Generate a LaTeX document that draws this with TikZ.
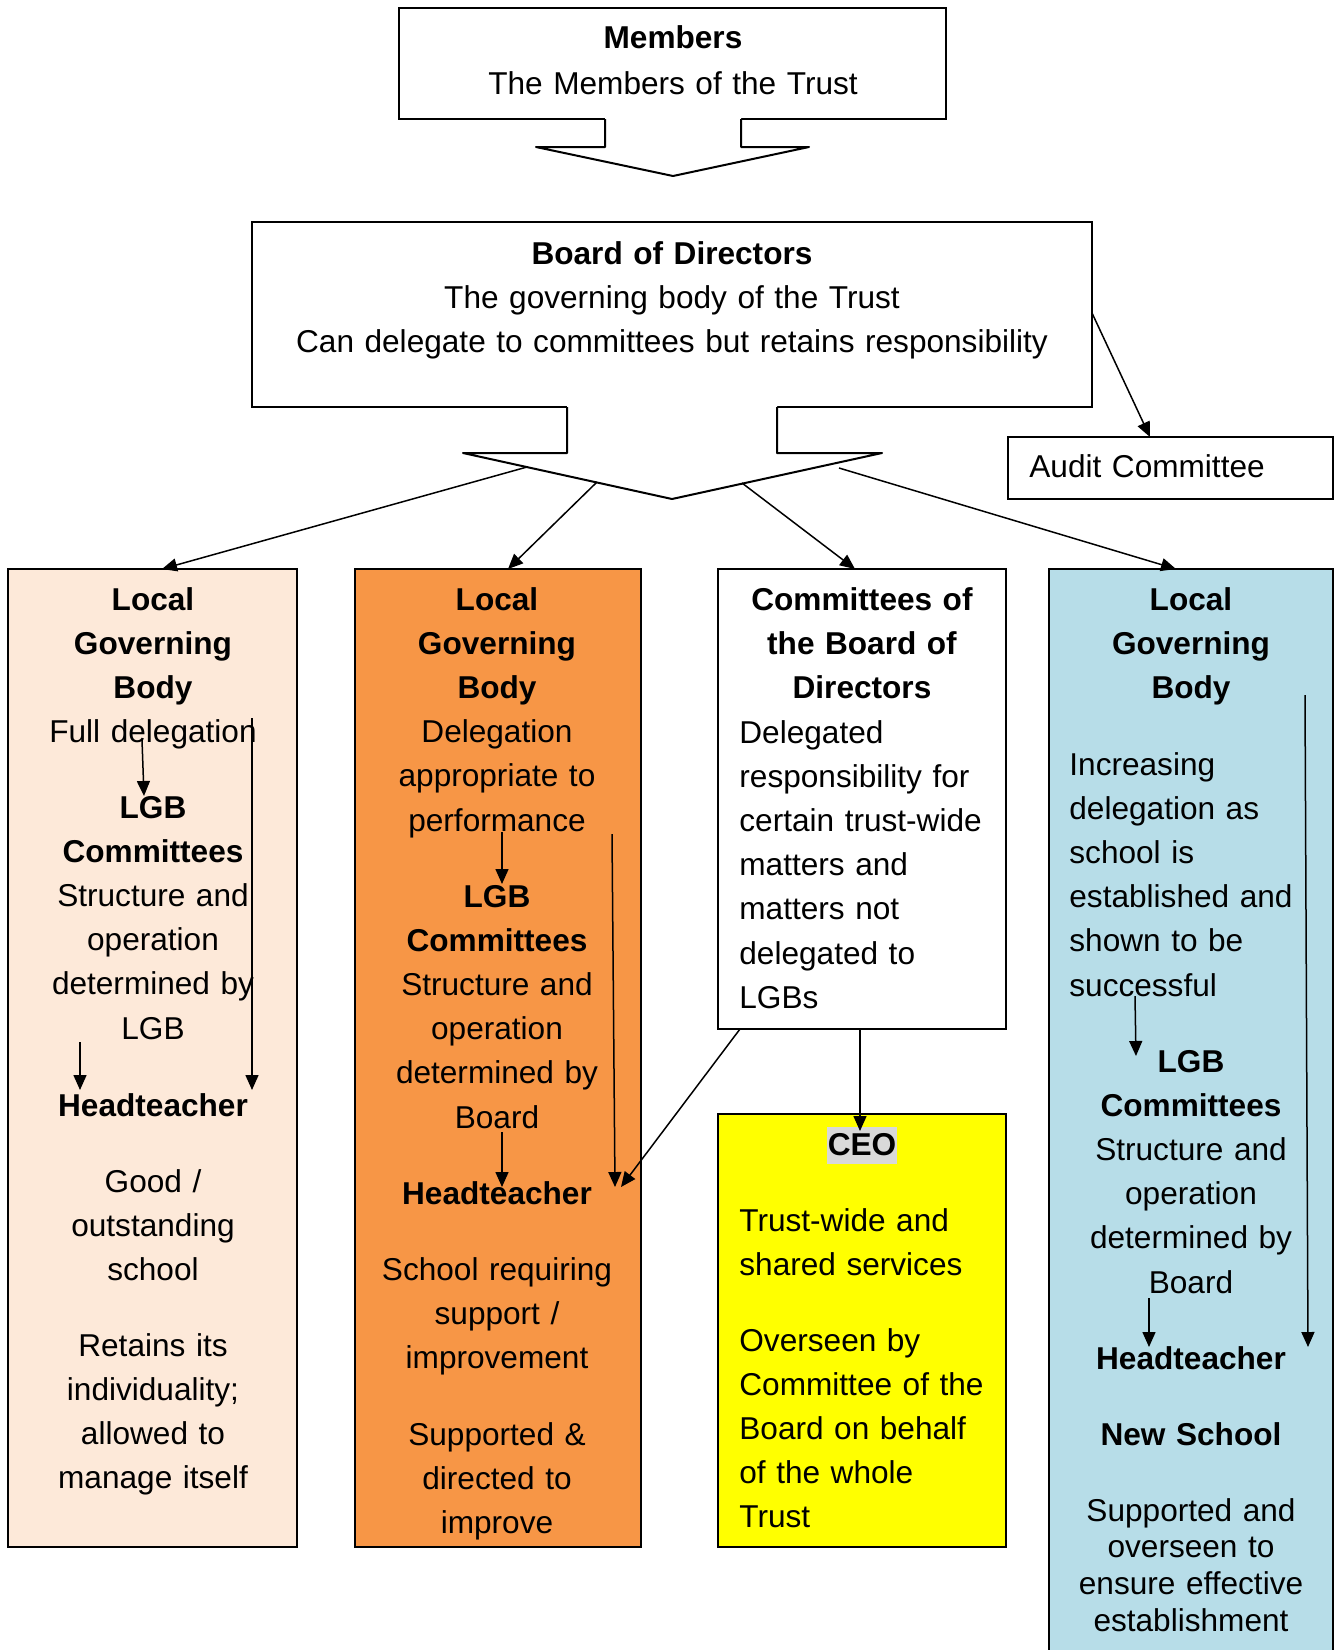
\documentclass[tikz,border=0pt]{standalone}
\usepackage{fontspec}
\setmainfont{Liberation Sans}
\usetikzlibrary{arrows.meta}
\definecolor{peach}{HTML}{FDE9D9}
\definecolor{orng}{HTML}{F79646}
\definecolor{lblue}{HTML}{B7DDE8}
\definecolor{ceogray}{HTML}{D9D9D9}
\definecolor{ylw}{HTML}{FFFF00}
\begin{document}
\begin{tikzpicture}[x=0.5pt,y=-0.5pt,
 box/.style={draw,line width=1pt,inner sep=0pt,outer sep=0pt,anchor=north west},
 ctxt/.style={font=\fontsize{15.8}{22.1}\selectfont,inner sep=0pt,align=center,text width=170pt,anchor=base},
 ltxt/.style={font=\fontsize{15.8}{22.1}\selectfont,inner sep=0pt,align=left,text width=150pt,anchor=base west},
 arr/.style={line width=0.75pt,-{Triangle[length=7.5pt,width=6.5pt]}},
 blk/.style={line width=1pt,line join=round}]
\useasboundingbox (0,0) rectangle (1340,1650);
\fill[white] (0,0) rectangle (1340,1650);

% Members
\node[box,minimum width=273.5pt,minimum height=55.5pt] (members) at (399,8) {};
\node[ctxt,text width=260pt] (memtxt) at (673,48) {\textbf{Members}\\[1pt]The Members of the Trust};
\fill[white] (605,117)--(605,147)--(536,147)--(673,176)--(809,147)--(741,147)--(741,117)--cycle;
\draw[blk] (605,119)--(605,147)--(536,147)--(673,176)--(809,147)--(741,147)--(741,119);

% Board
\node[box,minimum width=420pt,minimum height=92.5pt] (board) at (252,222) {};
\node[ctxt,text width=410pt] (boardtxt) at (672,264) {\textbf{Board of Directors}\\The governing body of the Trust\\Can delegate to committees but retains responsibility};
\fill[white] (567,405)--(567,453)--(463,453)--(672,499)--(882,453)--(777,453)--(777,405)--cycle;
\draw[blk] (567,407)--(567,453)--(463,453)--(672,499)--(882,453)--(777,453)--(777,407);

% Audit
\node[box,minimum width=162.5pt,minimum height=31pt] (audit) at (1008,437) {};
\node[ltxt] (audittxt) at (1029,477) {Audit Committee};
\coordinate (bre) at (1092,313);
\draw[arr] (bre) -- (audit.north -| 1150,0);

% Columns
\node[box,fill=peach,minimum width=144.5pt,minimum height=489pt] (col1) at (8,569) {};
\node[box,fill=orng,minimum width=143pt,minimum height=489pt] (col2) at (355,569) {};
\node[box,fill=white,minimum width=144pt,minimum height=230pt] (col3) at (718,569) {};
\node[box,fill=ylw,minimum width=144pt,minimum height=216.5pt] (ceo) at (718,1114) {};
\node[box,fill=lblue,minimum width=142pt,minimum height=545.5pt] (col4) at (1049,569) {};

% arrows from board chevron
\coordinate (s1) at (527,467);
\coordinate (s2) at (597,482);
\coordinate (s3) at (742,483);
\coordinate (s4) at (839,468);
\coordinate (e1) at (162,569);
\coordinate (e2) at (508,569);
\coordinate (e3) at (855,569);
\coordinate (e4) at (1176,569);
\draw[arr] (s1) -- (e1);
\draw[arr] (s2) -- (e2);
\draw[arr] (s3) -- (e3);
\draw[arr] (s4) -- (e4);

% Column 1 text
\node[ctxt] (c1a) at (153,610) {\textbf{Local}\\\textbf{Governing}\\\textbf{Body}\\Full delegation};
\node[ctxt] (c1b) at (153,818) {\textbf{LGB}\\\textbf{Committees}\\Structure and\\operation\\determined by\\LGB};
\node[ctxt] (c1c) at (153,1116) {\textbf{Headteacher}};
\node[ctxt] (c1d) at (153,1192) {Good /\\outstanding\\school};
\node[ctxt] (c1e) at (153,1356) {Retains its\\individuality;\\allowed to\\manage itself};

% Column 2 text
\node[ctxt] (c2a) at (497,610) {\textbf{Local}\\\textbf{Governing}\\\textbf{Body}\\Delegation\\appropriate to\\performance};
\node[ctxt] (c2b) at (497,907) {\textbf{LGB}\\\textbf{Committees}\\Structure and\\operation\\determined by\\Board};
\node[ctxt] (c2c) at (497,1204) {\textbf{Headteacher}};
\node[ctxt] (c2d) at (497,1280) {School requiring\\support /\\improvement};
\node[ctxt] (c2e) at (497,1445) {Supported \&\\directed to\\improve};

% Column 3 text
\node[ctxt] (c3a) at (862,610) {\textbf{Committees of}\\\textbf{the Board of}\\\textbf{Directors}};
\node[ltxt] (c3b) at (739,743) {Delegated\\responsibility for\\certain trust-wide\\matters and\\matters not\\delegated to\\LGBs};

% CEO text
\node[font=\fontsize{15.8}{22.1}\selectfont\bfseries,fill=ceogray,inner xsep=0.5pt,inner ysep=0pt,text height=14pt,text depth=4.5pt,anchor=base] (ceolbl) at (862,1155) {CEO};
\node[ltxt] (c5b) at (739,1231) {Trust-wide and\\shared services};
\node[ltxt] (c5c) at (739,1351) {Overseen by\\Committee of the\\Board on behalf\\of the whole\\Trust};

% Column 4 text
\node[ctxt] (c4a) at (1191,610) {\textbf{Local}\\\textbf{Governing}\\\textbf{Body}};
\node[ltxt] (c4b) at (1069,775) {Increasing\\delegation as\\school is\\established and\\shown to be\\successful};
\node[ctxt] (c4c) at (1191,1072) {\textbf{LGB}\\\textbf{Committees}\\Structure and\\operation\\determined by\\Board};
\node[ctxt] (c4d) at (1191,1369) {\textbf{Headteacher}};
\node[ctxt] (c4e) at (1191,1445) {\textbf{New School}};
\node[ctxt,font=\fontsize{15.8}{18.4}\selectfont] (c4f) at (1191,1521) {Supported and\\overseen to\\ensure effective\\establishment};

% internal arrows column 1
\coordinate (a1s) at (142,740); \coordinate (a1e) at (144,796);
\coordinate (a2s) at (80,1042); \coordinate (a2e) at (80,1090);
\coordinate (a3s) at (252,718); \coordinate (a3e) at (252,1090);
\draw[arr] (a1s) -- (a1e);
\draw[arr] (a2s) -- (a2e);
\draw[arr] (a3s) -- (a3e);

% internal arrows column 2
\coordinate (b1s) at (502,832); \coordinate (b1e) at (502,884);
\coordinate (b2s) at (502,1132); \coordinate (b2e) at (502,1187);
\coordinate (b3s) at (612,834); \coordinate (b3e) at (615,1187);
\draw[arr] (b1s) -- (b1e);
\draw[arr] (b2s) -- (b2e);
\draw[arr] (b3s) -- (b3e);

% column 3 outgoing
\coordinate (d1s) at (740,1029); \coordinate (d1e) at (621,1187);
\coordinate (d2s) at (860,1029); \coordinate (d2e) at (860,1131);
\draw[arr] (d1s) -- (d1e);
\draw[arr] (d2s) -- (d2e);

% internal arrows column 4
\coordinate (f1s) at (1135,996); \coordinate (f1e) at (1136,1056);
\coordinate (f2s) at (1149,1298); \coordinate (f2e) at (1149,1347);
\coordinate (f3s) at (1305,695); \coordinate (f3e) at (1308,1347);
\draw[arr] (f1s) -- (f1e);
\draw[arr] (f2s) -- (f2e);
\draw[arr] (f3s) -- (f3e);
\end{tikzpicture}
\end{document}
